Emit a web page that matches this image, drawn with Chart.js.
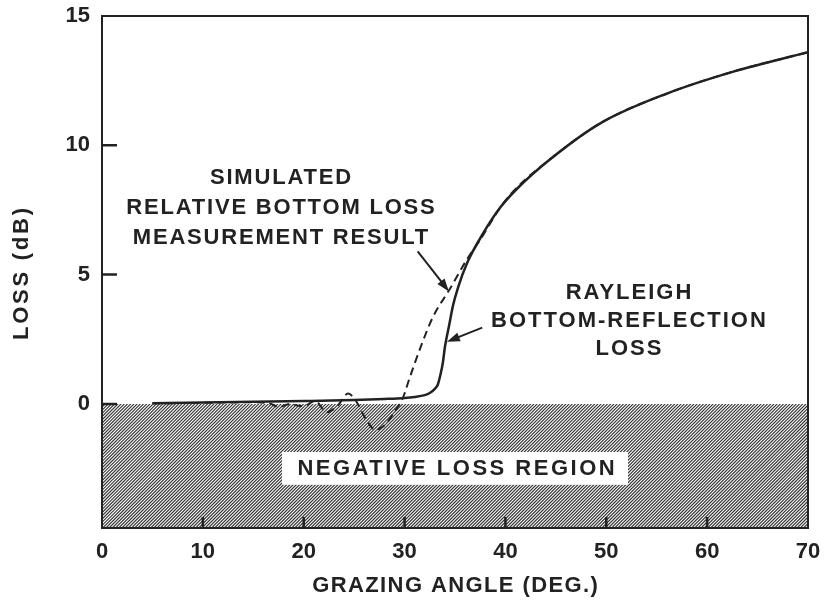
<!DOCTYPE html>
<html>
<head>
<meta charset="utf-8">
<script src="https://cdn.jsdelivr.net/npm/chart.js@4.4.0/dist/chart.umd.min.js"></script>
<style>
  html, body { margin: 0; padding: 0; background: #fff; }
</style>
</head>
<body>
<canvas id="lossChart" width="824" height="602"></canvas>
<script>
// Rayleigh bottom-reflection loss (solid)
const angleRayleigh = [5, 10, 15, 20, 25, 28, 30, 31, 32, 32.5, 33, 33.3, 33.6, 33.8, 34, 34.4, 34.8, 35.3, 36.2, 37.8, 39.5, 41.1, 44.4, 49.4, 56, 62.6, 70];
const lossRayleigh = [0.02, 0.05, 0.08, 0.11, 0.15, 0.19, 0.23, 0.27, 0.34, 0.42, 0.58, 0.75, 1.2, 1.6, 2.2, 3.0, 3.8, 4.5, 5.45, 6.6, 7.6, 8.3, 9.45, 10.85, 12.0, 12.85, 13.6];

// simulated relative bottom loss measurement (dashed)
const angleSimulated = [5, 10, 15, 16.5, 17.6, 18.6, 19.6, 20.3, 21.1, 22.3, 23.4, 24.4, 25.2, 26.1, 27.1, 28.1, 29.0, 29.8, 30.5, 31.5, 32.8, 34.5, 36.2, 37.5, 39.5, 41.1, 44.4, 49.4, 56, 62.6, 70];
const lossSimulated = [0.02, 0.04, 0.06, 0.03, -0.12, 0.0, -0.08, -0.05, 0.12, -0.32, -0.05, 0.4, 0.1, -0.55, -1.0, -0.8, -0.3, 0.2, 1.0, 2.1, 3.35, 4.45, 5.6, 6.35, 7.6, 8.35, 9.45, 10.85, 12.0, 12.85, 13.6];

const xTicks = [0, 10, 20, 30, 40, 50, 60, 70];
const yTicks = [0, 5, 10, 15];
const xTickMarks = [10, 20, 30, 40, 50, 60];
const yTickMarks = [0, 5, 10];

const xTitle = "GRAZING ANGLE (DEG.)";
const yTitle = "LOSS (dB)";
const simulatedLabel = ["SIMULATED", "RELATIVE BOTTOM LOSS", "MEASUREMENT RESULT"];
const rayleighLabel = ["RAYLEIGH", "BOTTOM-REFLECTION", "LOSS"];
const regionLabel = "NEGATIVE LOSS REGION";

const ink = "#222";
const fam = "'Liberation Sans', Arial, sans-serif";
const labelFont = "bold 22px " + fam;

function spacedText(ctx, text, x, y, spacing) {
  ctx.letterSpacing = "0px";
  const w = ctx.measureText(text).width + spacing * (text.length - 1);
  ctx.letterSpacing = spacing + "px";
  ctx.textAlign = "left";
  ctx.fillText(text, x - w / 2, y);
  ctx.letterSpacing = "0px";
}

function arrow(ctx, x1, y1, x2, y2) {
  const a = Math.atan2(y2 - y1, x2 - x1);
  const len = 13, wid = 4.5;
  ctx.beginPath();
  ctx.moveTo(x1, y1);
  ctx.lineTo(x2 - Math.cos(a) * len * 0.8, y2 - Math.sin(a) * len * 0.8);
  ctx.stroke();
  ctx.beginPath();
  ctx.moveTo(x2, y2);
  ctx.lineTo(x2 - Math.cos(a) * len - Math.sin(a) * wid, y2 - Math.sin(a) * len + Math.cos(a) * wid);
  ctx.lineTo(x2 - Math.cos(a) * len + Math.sin(a) * wid, y2 - Math.sin(a) * len - Math.cos(a) * wid);
  ctx.closePath();
  ctx.fill();
}

function noPad(s) {
  s.paddingTop = 0;
  s.paddingBottom = 0;
  s.paddingLeft = 0;
  s.paddingRight = 0;
}

const decorPlugin = {
  id: "decor",
  beforeDatasetsDraw(chart) {
    const ctx = chart.ctx;
    const { left, right, bottom } = chart.chartArea;
    const xs = chart.scales.x, ys = chart.scales.y;
    const y0 = ys.getPixelForValue(0);
    // hatched negative region
    ctx.save();
    ctx.beginPath();
    ctx.rect(left, y0, right - left, bottom - y0);
    ctx.clip();
    ctx.strokeStyle = "#333";
    ctx.lineWidth = 1.15;
    const h = bottom - y0;
    ctx.beginPath();
    for (let s = left - h; s < right; s += 3.2) {
      ctx.moveTo(s, bottom);
      ctx.lineTo(s + h, y0);
    }
    ctx.stroke();
    ctx.restore();

    // white label box
    const bx1 = xs.getPixelForValue(17.85), bx2 = xs.getPixelForValue(52.15);
    const by1 = ys.getPixelForValue(-1.86), by2 = ys.getPixelForValue(-3.13);
    ctx.save();
    ctx.fillStyle = "#fff";
    ctx.fillRect(bx1, by1, bx2 - bx1, by2 - by1);
    ctx.fillStyle = ink;
    ctx.font = labelFont;
    ctx.textBaseline = "middle";
    spacedText(ctx, regionLabel, xs.getPixelForValue(35.1), ys.getPixelForValue(-2.5), 2.5);
    ctx.restore();
  },
  afterDatasetsDraw(chart) {
    const ctx = chart.ctx;
    const { left, right, top, bottom } = chart.chartArea;
    const xs = chart.scales.x, ys = chart.scales.y;
    ctx.save();
    ctx.strokeStyle = ink;
    ctx.fillStyle = ink;
    // frame
    ctx.lineWidth = 2;
    ctx.strokeRect(left, top, right - left, bottom - top);
    // inward tick marks
    ctx.lineWidth = 2.5;
    ctx.beginPath();
    yTickMarks.forEach(v => {
      const p = ys.getPixelForValue(v);
      ctx.moveTo(left, p);
      ctx.lineTo(left + 15, p);
    });
    xTickMarks.forEach(v => {
      const p = xs.getPixelForValue(v);
      ctx.moveTo(p, bottom);
      ctx.lineTo(p, bottom - 11);
    });
    ctx.stroke();

    // annotations
    ctx.font = labelFont;
    ctx.textBaseline = "middle";
    simulatedLabel.forEach((t, i) => {
      spacedText(ctx, t, xs.getPixelForValue(17.7), ys.getPixelForValue(8.75) + i * 30, 1.8);
    });
    rayleighLabel.forEach((t, i) => {
      spacedText(ctx, t, xs.getPixelForValue(52.2), ys.getPixelForValue(4.29) + i * 28, 2.0);
    });
    ctx.lineWidth = 2;
    arrow(ctx, xs.getPixelForValue(31.3), ys.getPixelForValue(5.9), xs.getPixelForValue(34.4), ys.getPixelForValue(4.35));
    arrow(ctx, xs.getPixelForValue(37.7), ys.getPixelForValue(2.95), xs.getPixelForValue(34.2), ys.getPixelForValue(2.4));

    // axis titles
    spacedText(ctx, xTitle, (left + right) / 2, 586, 1.4);
    ctx.translate(22, (top + bottom) / 2 + 2);
    ctx.rotate(-Math.PI / 2);
    spacedText(ctx, yTitle, 0, 0, 2.75);
    ctx.restore();
  }
};

const tickFont = { family: fam, size: 22, weight: "bold" };

new Chart(document.getElementById("lossChart").getContext("2d"), {
  type: "line",
  data: {
    datasets: [
      {
        label: "Simulated",
        data: angleSimulated.map((a, i) => ({ x: a, y: lossSimulated[i] })),
        borderColor: ink,
        borderWidth: 2,
        borderDash: [8, 5],
        pointRadius: 0,
        cubicInterpolationMode: "monotone",
        fill: false
      },
      {
        label: "Rayleigh",
        data: angleRayleigh.map((a, i) => ({ x: a, y: lossRayleigh[i] })),
        borderColor: ink,
        borderWidth: 2.5,
        pointRadius: 0,
        cubicInterpolationMode: "monotone",
        fill: false
      }
    ]
  },
  options: {
    responsive: false,
    animation: false,
    layout: { padding: { top: 16, right: 16, left: 0, bottom: 0 } },
    plugins: { legend: { display: false }, tooltip: { enabled: false } },
    scales: {
      x: {
        type: "linear",
        min: 0,
        max: 70,
        afterBuildTicks: s => { s.ticks = xTicks.map(v => ({ value: v })); },
        afterFit: s => { s.height = 74; noPad(s); },
        grid: { display: false, drawTicks: false },
        border: { display: false },
        ticks: { font: tickFont, color: ink, padding: 11, maxRotation: 0, autoSkip: false }
      },
      y: {
        min: -4.8,
        max: 15,
        afterBuildTicks: s => { s.ticks = yTicks.map(v => ({ value: v })); },
        afterFit: s => { s.width = 102; noPad(s); },
        grid: { display: false, drawTicks: false },
        border: { display: false },
        ticks: { font: tickFont, color: ink, padding: 12, autoSkip: false }
      }
    }
  },
  plugins: [decorPlugin]
});
</script>
</body>
</html>
